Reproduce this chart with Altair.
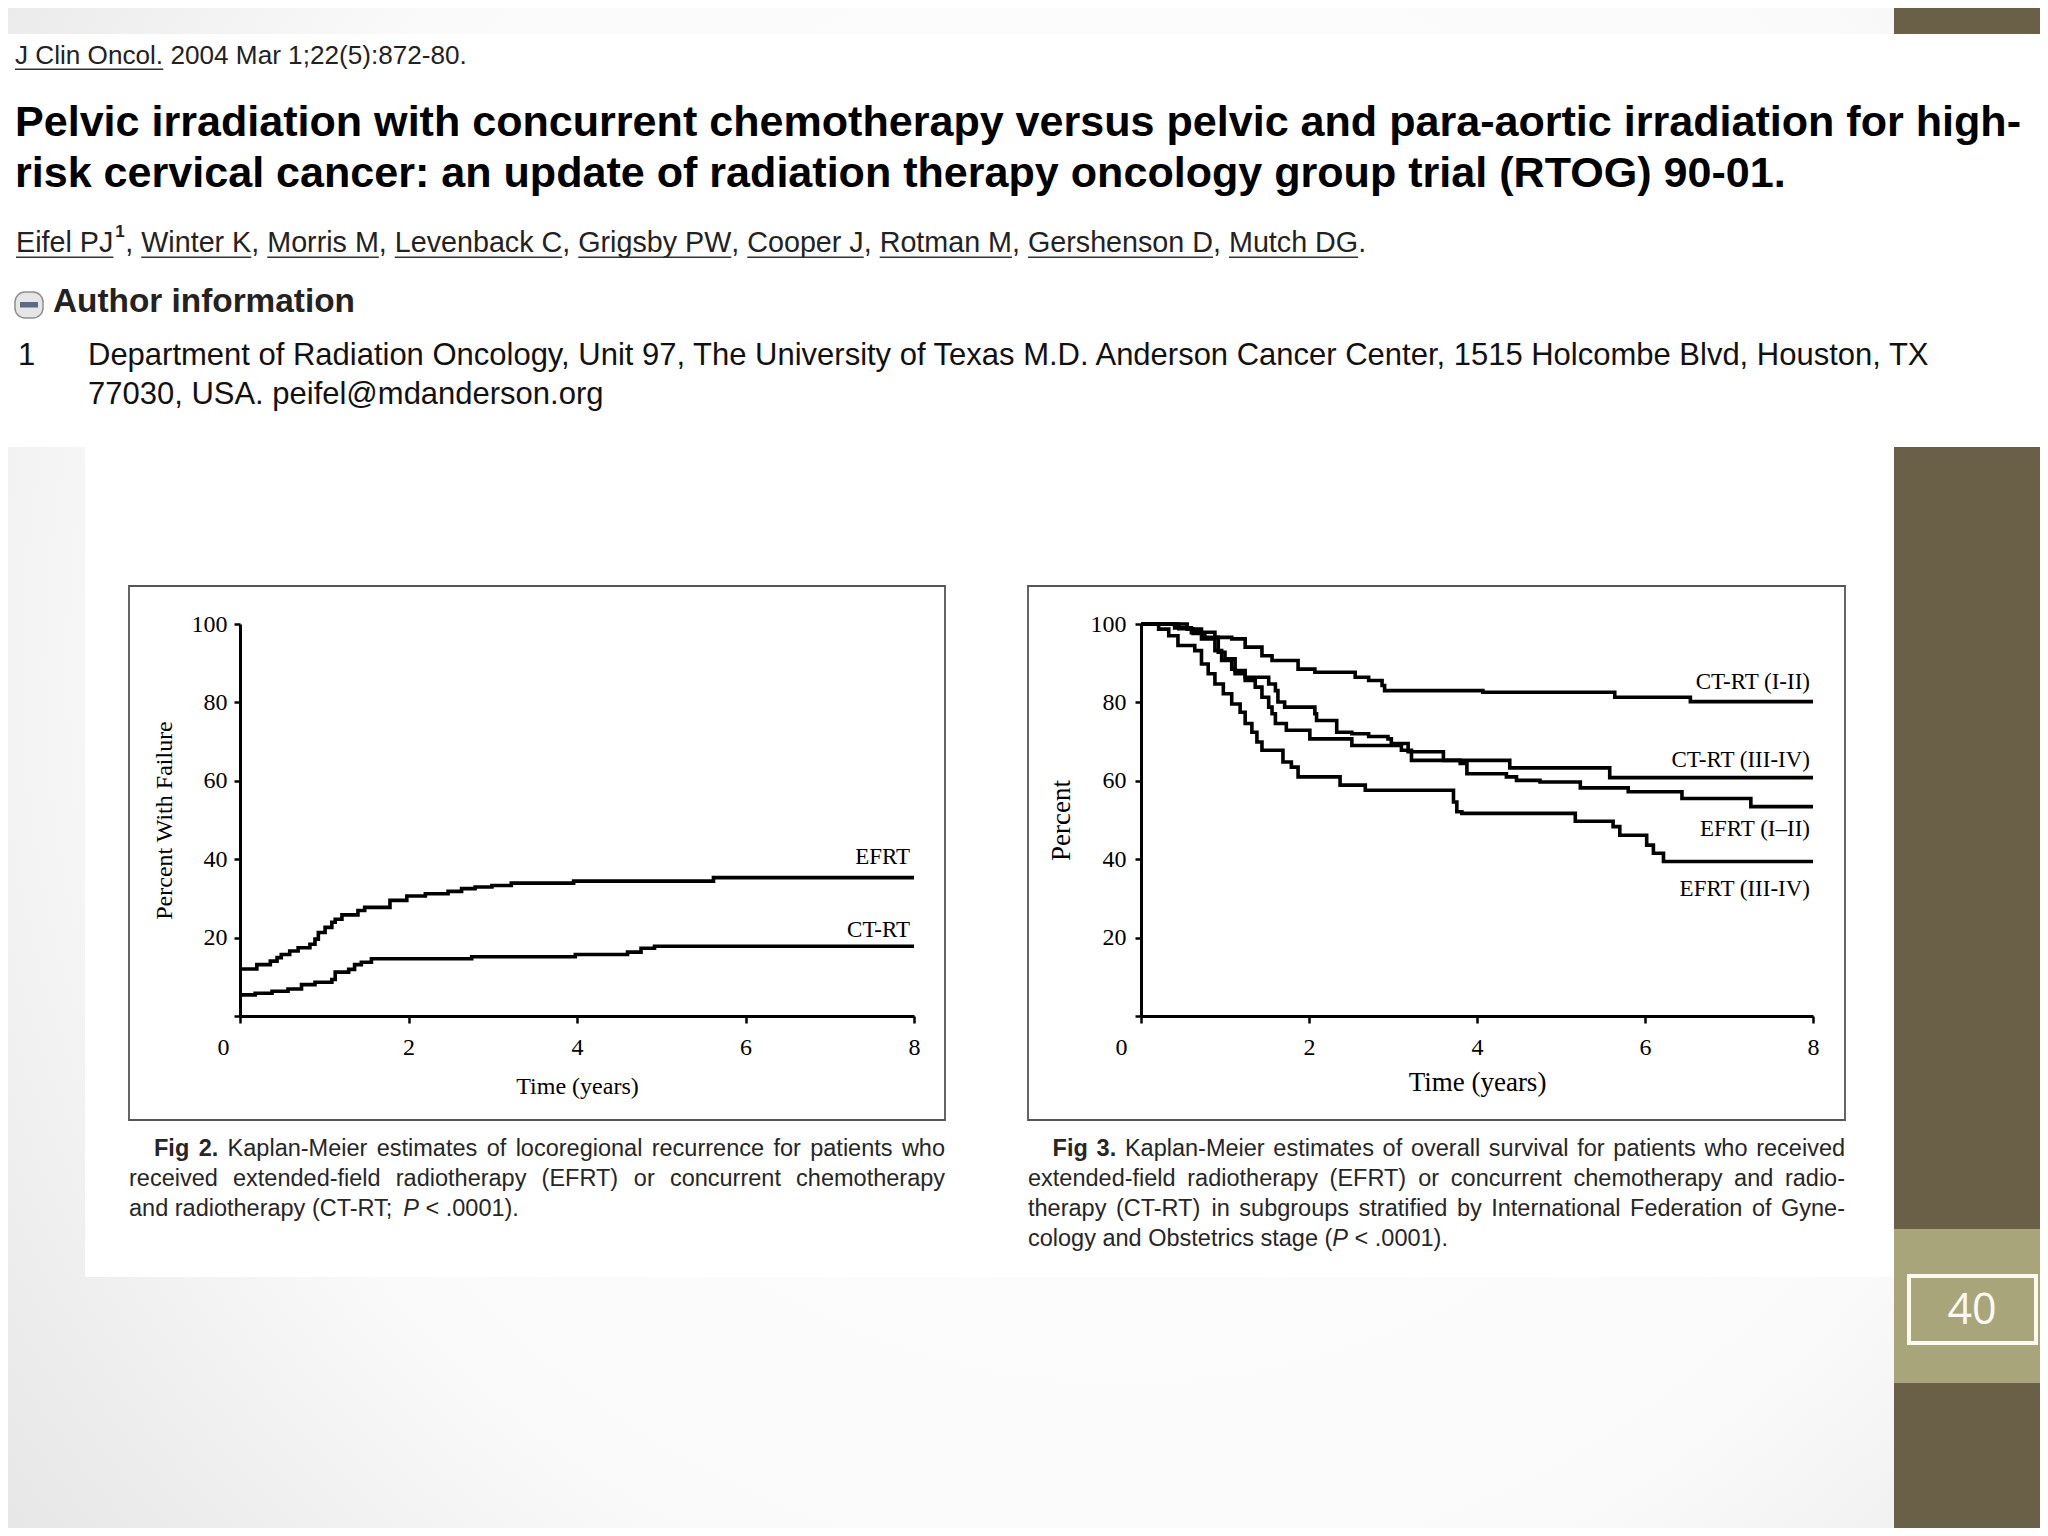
import re
import altair as alt
import pandas as pd

# ------------------------------------------------------------------
# chart values
# ------------------------------------------------------------------
x_ticks = [0, 2, 4, 6, 8]
y_ticks = [0, 20, 40, 60, 80, 100]

# Fig 2: percent with locoregional failure (step points: time, value)
f2_efrt_t = [0, 0.20, 0.36, 0.44, 0.49, 0.59, 0.69, 0.83, 0.89, 0.93, 1.01, 1.09, 1.13, 1.21,
             1.40, 1.48, 1.78, 1.98, 2.20, 2.47, 2.63, 2.79, 2.99, 3.22, 3.96, 5.62, 8.0]
f2_efrt_v = [12.0, 13.1, 14.0, 14.9, 15.7, 16.6, 17.4, 18.3, 19.6, 21.3, 22.6, 23.9, 24.7, 25.8,
             26.9, 27.7, 29.5, 30.6, 31.2, 31.8, 32.5, 32.9, 33.3, 33.9, 34.4, 35.3, 35.3]
f2_ctrt_t = [0, 0.18, 0.38, 0.57, 0.73, 0.89, 1.09, 1.13, 1.29, 1.36, 1.44, 1.56, 2.75, 3.98,
             4.60, 4.76, 4.92, 8.0]
f2_ctrt_v = [5.4, 5.8, 6.3, 6.9, 8.0, 8.6, 9.3, 11.2, 11.9, 13.1, 13.7, 14.6, 15.1, 15.7,
             16.3, 17.3, 17.8, 17.8]
f2_names = ["EFRT", "CT-RT"]
f2_label_v = [40.6, 21.9]

# Fig 3: overall survival (percent)
f3_ct12_t = [0, 0.55, 0.72, 0.88, 1.08, 1.24, 1.44, 1.56, 1.87, 2.07, 2.55, 2.71, 2.87, 2.90,
             4.07, 5.64, 6.54, 8.0]
f3_ct12_v = [100, 98.7, 97.9, 96.6, 96.2, 94.1, 91.9, 90.7, 88.5, 87.7, 86.4, 85.6, 84.3, 83.0,
             82.6, 81.3, 80.2, 80.2]
f3_ct34_t = [0, 0.40, 0.60, 0.72, 0.88, 0.96, 1.08, 1.12, 1.24, 1.52, 1.60, 1.63, 1.71, 2.07,
             2.09, 2.33, 2.51, 2.71, 2.94, 2.98, 3.18, 3.60, 4.39, 5.58, 8.0]
f3_ct34_v = [100, 99.0, 97.8, 96.2, 93.2, 90.7, 88.5, 87.3, 86.4, 84.7, 83.0, 80.1, 78.8, 77.1,
             75.4, 72.4, 72.0, 71.3, 70.7, 69.5, 67.4, 65.2, 63.3, 60.8, 60.8]
f3_ef12_t = [0, 0.45, 0.62, 0.76, 0.92, 1.00, 1.12, 1.24, 1.36, 1.44, 1.52, 1.56, 1.60, 1.73,
             2.01, 2.51, 3.10, 3.22, 3.80, 3.88, 4.35, 4.47, 4.75, 5.23, 5.80, 6.44, 7.26, 8.0]
f3_ef12_v = [100, 98.8, 97.6, 96.6, 92.8, 91.1, 88.1, 85.6, 83.9, 81.3, 78.8, 77.1, 74.6, 72.9,
             70.7, 69.0, 67.8, 65.2, 64.4, 61.8, 61.0, 60.1, 59.7, 58.2, 57.2, 55.5, 53.4, 53.4]
f3_ef34_t = [0, 0.21, 0.33, 0.44, 0.64, 0.72, 0.80, 0.88, 0.98, 1.08, 1.18, 1.24, 1.32, 1.38,
             1.44, 1.69, 1.79, 1.87, 2.37, 2.67, 3.72, 3.76, 3.82, 5.17, 5.62, 5.70, 6.02, 6.10,
             6.22, 8.0]
f3_ef34_v = [100, 98.7, 97.0, 94.5, 93.2, 89.8, 87.3, 84.7, 82.2, 79.6, 77.5, 74.6, 72.4, 69.9,
             67.8, 64.8, 63.5, 61.0, 58.9, 57.6, 54.6, 52.1, 51.7, 49.7, 48.3, 46.1, 43.6, 41.5,
             39.4, 39.4]
f3_names = ["CT-RT (I-II)", "CT-RT (III-IV)", "EFRT (I–II)", "EFRT (III-IV)"]
f3_label_v = [85.3, 65.3, 47.7, 32.4]

# ------------------------------------------------------------------
# slide text
# ------------------------------------------------------------------
citation_link = "J Clin Oncol."
citation_rest = "2004 Mar 1;22(5):872-80."
title_lines = [
    "Pelvic irradiation with concurrent chemotherapy versus pelvic and para-aortic irradiation for high-",
    "risk cervical cancer: an update of radiation therapy oncology group trial (RTOG) 90-01.",
]
authors = ["Eifel PJ", "Winter K", "Morris M", "Levenback C", "Grigsby PW", "Cooper J",
           "Rotman M", "Gershenson D", "Mutch DG"]
author_info = "Author information"
dept_lines = [
    "Department of Radiation Oncology, Unit 97, The University of Texas M.D. Anderson Cancer Center, 1515 Holcombe Blvd, Houston, TX",
    "77030, USA. peifel@mdanderson.org",
]
cap2_lines = [
    [("Fig 2.", "b"), (" Kaplan-Meier estimates of locoregional recurrence for patients who", "r")],
    [("received extended-field radiotherapy (EFRT) or concurrent chemotherapy", "r")],
    [("and radiotherapy (CT-RT; ", "r"), ("P", "i"), (" < .0001).", "r")],
]
cap3_lines = [
    [("Fig 3.", "b"), (" Kaplan-Meier estimates of overall survival for patients who received", "r")],
    [("extended-field radiotherapy (EFRT) or concurrent chemotherapy and radio-", "r")],
    [("therapy (CT-RT) in subgroups stratified by International Federation of Gyne-", "r")],
    [("cology and Obstetrics stage (", "r"), ("P", "i"), (" < .0001).", "r")],
]
slide_number = "40"

# ------------------------------------------------------------------
# layout helpers
# ------------------------------------------------------------------
SANS = "Liberation Sans"
SERIF = "Liberation Serif"
OFF = 8                     # page margin
W, H = 2032, 1520           # drawing size

REG = dict(zip(" !\"#$%&'()*+,-./:;<=>?@",
               [278, 278, 355, 556, 556, 889, 667, 191, 333, 333, 389, 584, 278, 333, 278, 278,
                278, 278, 584, 584, 584, 556, 1015]))
REG.update(dict(zip("ABCDEFGHIJKLMNOPQRSTUVWXYZ",
               [667, 667, 722, 722, 667, 611, 778, 722, 278, 500, 667, 556, 833, 722, 778, 667,
                778, 722, 667, 611, 722, 667, 944, 667, 667, 611])))
REG.update(dict(zip("abcdefghijklmnopqrstuvwxyz",
               [556, 556, 500, 556, 556, 278, 556, 556, 222, 222, 500, 222, 833, 556, 556, 556,
                556, 333, 500, 278, 556, 500, 722, 500, 500, 500])))
BOLD = dict(zip(" !\"#$%&'()*+,-./:;<=>?@",
               [278, 333, 474, 556, 556, 889, 722, 238, 333, 333, 389, 584, 278, 333, 278, 278,
                333, 333, 584, 584, 584, 611, 975]))
BOLD.update(dict(zip("ABCDEFGHIJKLMNOPQRSTUVWXYZ",
               [722, 722, 722, 722, 667, 611, 778, 722, 278, 556, 722, 611, 833, 722, 778, 667,
                778, 722, 667, 611, 722, 667, 944, 667, 667, 611])))
BOLD.update(dict(zip("abcdefghijklmnopqrstuvwxyz",
               [556, 611, 556, 611, 556, 333, 611, 611, 278, 278, 556, 278, 889, 611, 611, 611,
                611, 389, 556, 333, 611, 556, 778, 556, 556, 500])))


def tw(s, size, bold=False):
    tab = BOLD if bold else REG
    return sum(tab.get(c, 556) for c in s) * size / 1000.0


one = pd.DataFrame({"a": [0]})


def rect_layer(rows, **mark):
    df = pd.DataFrame([(a - OFF, b - OFF, c - OFF, d - OFF) for a, b, c, d in rows],
                      columns=["px", "px2", "py", "py2"])
    return alt.Chart(df).mark_rect(**mark).encode(
        x=alt.X("px:Q", scale=None, axis=None), x2="px2",
        y=alt.Y("py:Q", scale=None, axis=None), y2="py2")


def text_layer(rows, size, font=SANS, color="#222222", **mark):
    df = pd.DataFrame([(x - OFF, y - OFF, t) for x, y, t in rows], columns=["px", "py", "txt"])
    mk = dict(align="left", baseline="alphabetic")
    mk.update(mark)
    return alt.Chart(df).mark_text(font=font, fontSize=size, color=color, **mk).encode(
        x=alt.X("px:Q", scale=None, axis=None),
        y=alt.Y("py:Q", scale=None, axis=None),
        text="txt:N")


layers = []

# background
layers.append(alt.Chart(one).mark_rect(color={
    "gradient": "radial",
    "stops": [{"offset": 0, "color": "#ffffff"}, {"offset": 0.6, "color": "#fafafa"},
              {"offset": 0.8, "color": "#ececec"}, {"offset": 1, "color": "#e0e0e0"}],
    "x1": 0.55, "y1": 0.45, "r1": 0, "x2": 0.55, "y2": 0.45, "r2": 0.78,
}).encode(x=alt.value(0), x2=alt.value(W), y=alt.value(0), y2=alt.value(H)))

layers.append(rect_layer([(0, 2048, 34, 447), (85, 1894, 447, 1277)], color="#ffffff"))
layers.append(rect_layer([(1894, 2048, 0, 34), (1894, 2048, 447, 1536)], color="#6a6048"))
layers.append(rect_layer([(1894, 2048, 1229, 1383)], color="#a9a57b"))
layers.append(rect_layer([(1909, 2036, 1276, 1343)], fill="#a9a57b", fillOpacity=0,
                         stroke="#fbf9f0", strokeWidth=4))
layers.append(text_layer([(1972, 1311, slide_number)], 43, font="Open Sans", color="#fbf9f0",
                         align="center", baseline="middle"))

# figure boxes
layers.append(rect_layer([(129, 945, 586, 1120), (1028, 1845, 586, 1120)], fill="#ffffff",
                         fillOpacity=0, stroke="#555555", strokeWidth=1.8))

# ---- header ----
cs = 452 / tw(citation_link + " " + citation_rest, 1)
cx2 = 15 + tw(citation_link + " ", cs)
layers.append(text_layer([(15, 64, citation_link), (cx2, 64, citation_rest)], cs, color="#222222"))
underlines = [(15, 15 + tw(citation_link, cs), 68.5, 70)]

ts = 2007 / tw(title_lines[0], 1, True)
layers.append(text_layer([(15, 136, title_lines[0]), (15, 187, title_lines[1])], ts,
                         color="#000000", fontWeight="bold"))

asz = 28.7
x = 16
arows, sup_rows = [], []
for i, nm in enumerate(authors):
    w = tw(nm, asz)
    arows.append((x, 251.5, nm))
    underlines.append((x, x + w, 256.5, 258))
    x += w
    if i == 0:
        sup_rows.append((x + 2, 237, "1"))
        x += 12
    if i < len(authors) - 1:
        arows.append((x, 251.5, ","))
        x += tw(", ", asz)
    else:
        arows.append((x, 251.5, "."))
layers.append(text_layer(arows, asz, color="#222222"))
layers.append(text_layer(sup_rows, 17, color="#222222", fontWeight="bold"))
layers.append(rect_layer(underlines, color="#333333"))

# author information
layers.append(rect_layer([(15, 43, 292, 318)], color="#e6e6e6", stroke="#8f8f8f",
                         strokeWidth=1.5, cornerRadius=10))
layers.append(rect_layer([(20, 38, 302, 307.5)], color="#5b6b85"))
ais = 302 / tw(author_info, 1, True)
layers.append(text_layer([(53, 311.5, author_info)], ais, color="#222222", fontWeight="bold"))

ds = 1852 / tw(dept_lines[0], 1)
layers.append(text_layer([(18, 365, "1"), (88, 365, dept_lines[0]), (88, 404, dept_lines[1])],
                         ds, color="#111111"))

# ---- captions (justified) ----
cap_size = 23.5


def layout_runs(runs, x0, x1, y, size, justify):
    tokens = []
    for txt, st in runs:
        for p in re.split(r"( )", txt):
            if p:
                tokens.append((p, st))
    widths = [tw(p, size, st == "b") for p, st in tokens]
    nsp = sum(1 for p, _ in tokens if p == " ")
    extra = (x1 - x0 - sum(widths)) / nsp if (justify and nsp) else 0
    xx, out = x0, []
    for (p, st), w in zip(tokens, widths):
        if p == " ":
            xx += w + extra
        else:
            out.append((st, (xx, y, p)))
            xx += w
    return out


cap_items = []
base = [1156, 1186, 1216, 1246]
for i, runs in enumerate(cap2_lines):
    x0 = 154 if i == 0 else 129
    cap_items += layout_runs(runs, x0, 945, base[i], cap_size, i < len(cap2_lines) - 1)
for i, runs in enumerate(cap3_lines):
    x0 = 1052.6 if i == 0 else 1028
    cap_items += layout_runs(runs, x0, 1845, base[i], cap_size, i < len(cap3_lines) - 1)
layers.append(text_layer([r for s, r in cap_items if s == "r"], cap_size, color="#262626"))
layers.append(text_layer([r for s, r in cap_items if s == "b"], cap_size, color="#262626",
                         fontWeight="bold"))
layers.append(text_layer([r for s, r in cap_items if s == "i"], cap_size, color="#262626",
                         fontStyle="italic"))


# ---- Kaplan-Meier panels ----
def series_df(pairs):
    rows = []
    for name, ts_, vs_ in pairs:
        for t, v in zip(ts_, vs_):
            rows.append({"series": name, "t": t, "v": v})
    return pd.DataFrame(rows)


def km_panel(lines_df, names, label_v, xr, ytitle, title_size, ylab_pad, xtitle_pad,
             zero_shift, dx):
    xs = alt.Scale(domain=[0, 8], range=xr, nice=False, zero=False)
    ys = alt.Scale(domain=[0, 100], range=[1016 - OFF, 624 - OFF], nice=False, zero=False)
    common = dict(domainColor="black", domainWidth=3, tickColor="black", tickWidth=2.5,
                  labelFont=SERIF, labelFontSize=24, labelColor="black", labelFlush=False,
                  labelOverlap=False, grid=False, titleFont=SERIF, titleFontSize=title_size,
                  titleFontWeight="normal", titleColor="black", zindex=2)
    xa = alt.Axis(orient="bottom", offset=(1016 - OFF) - H, values=x_ticks, format="d",
                  title="Time (years)", tickSize=7, labelPadding=12, titlePadding=xtitle_pad,
                  labelOffset={"condition": {"test": "datum.value == 0", "value": zero_shift},
                               "value": 0},
                  **common)
    ya = alt.Axis(orient="left", offset=-xr[0], values=y_ticks, format="d", title=ytitle,
                  tickSize=6, labelPadding=ylab_pad, titlePadding=15,
                  labelExpr="datum.value == 0 ? '' : datum.label", **common)
    lines = alt.Chart(lines_df).mark_line(interpolate="step-after", color="black",
                                          strokeWidth=3.6).encode(
        x=alt.X("t:Q", scale=xs, axis=xa),
        y=alt.Y("v:Q", scale=ys, axis=ya),
        detail="series:N")
    lab_df = pd.DataFrame({"t": [8] * len(names), "v": label_v, "label": names})
    labels = alt.Chart(lab_df).mark_text(align="right", baseline="middle", dx=dx, font=SERIF,
                                         fontSize=23, color="black").encode(
        x=alt.X("t:Q", scale=xs, axis=xa),
        y=alt.Y("v:Q", scale=ys, axis=ya),
        text="label:N")
    return alt.layer(lines, labels)


fig2 = km_panel(series_df([(f2_names[0], f2_efrt_t, f2_efrt_v),
                           (f2_names[1], f2_ctrt_t, f2_ctrt_v)]),
                f2_names, f2_label_v, [240 - OFF, 914 - OFF], "Percent With Failure", 24,
                7, 15, -17, -4)
fig3 = km_panel(series_df([(f3_names[0], f3_ct12_t, f3_ct12_v),
                           (f3_names[1], f3_ct34_t, f3_ct34_v),
                           (f3_names[2], f3_ef12_t, f3_ef12_v),
                           (f3_names[3], f3_ef34_t, f3_ef34_v)]),
                f3_names, f3_label_v, [1141 - OFF, 1813 - OFF], "Percent", 27,
                9, 10, -20, -3)
layers += [fig2, fig3]

chart = alt.layer(*layers).resolve_scale(x="independent", y="independent").properties(
    width=W, height=H, padding=0, autosize=alt.AutoSizeParams(type="none")
).configure_view(stroke=None)

chart.save("out.html", embed_options={"renderer": "svg", "actions": False})
